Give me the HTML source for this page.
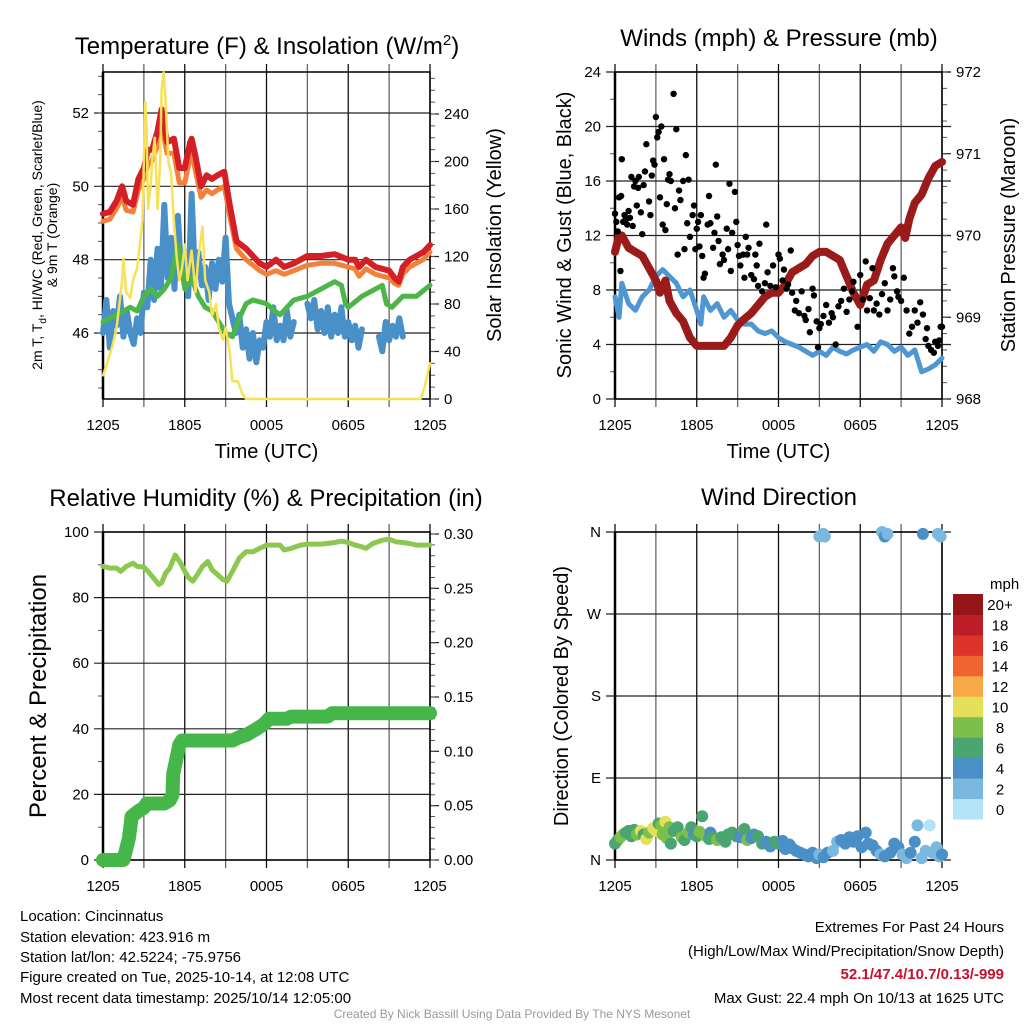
<!DOCTYPE html>
<html><head><meta charset="utf-8"><style>
html,body{margin:0;padding:0;background:#fff;}
svg{display:block;font-family:"Liberation Sans",sans-serif;}
</style></head><body>
<svg id="c" width="1024" height="1024" viewBox="0 0 1024 1024" xmlns="http://www.w3.org/2000/svg">
<g id="g"></g>
<g font-size="15" fill="#000">
<text x="20" y="921">Location: Cincinnatus</text>
<text x="20" y="942">Station elevation: 423.916 m</text>
<text x="20" y="962">Station lat/lon: 42.5224; -75.9756</text>
<text x="20" y="982">Figure created on Tue, 2025-10-14, at 12:08 UTC</text>
<text x="20" y="1003">Most recent data timestamp: 2025/10/14 12:05:00</text>
</g>
<g font-size="15" text-anchor="end">
<text x="1004" y="932">Extremes For Past 24 Hours</text>
<text x="1004" y="956">(High/Low/Max Wind/Precipitation/Snow Depth)</text>
<text x="1004" y="979" fill="#c8102e" font-weight="bold">52.1/47.4/10.7/0.13/-999</text>
<text x="1004" y="1003">Max Gust: 22.4 mph On 10/13 at 1625 UTC</text>
</g>
<text x="512" y="1018" font-size="12" fill="#999" text-anchor="middle">Created By Nick Bassill Using Data Provided By The NYS Mesonet</text>
</svg>
<script>
// ---------- data ----------
const xTickLabels=["1205","1805","0005","0605","1205"];
const tempHours=[0,0.5,1,1.4,1.7,2.2,2.6,3,3.3,3.6,4,4.3,4.7,5.2,5.6,6,6.4,6.5,6.8,7.2,7.6,8,8.4,8.9,9.3,9.8,10.5,11.5,12,12.7,13.3,14,15,16,17,18,18.5,18.8,19.3,20,21,21.4,21.7,22,22.5,23,23.5,24];
const tempRed=[49.25,49.3,49.6,50.0,49.6,49.5,50.2,50.5,51.0,51.0,51.5,52.1,51.2,51.3,50.5,50.5,51.2,51.3,50.8,50.0,50.3,50.2,50.3,50.4,49.5,48.5,48.3,47.9,47.8,48.0,47.8,47.9,48.1,48.1,48.15,48.0,48.0,47.8,48.0,47.8,47.7,47.5,47.4,47.8,48.0,48.1,48.2,48.4];
const tempOrange=[49.05,49.1,49.4,49.7,49.35,49.3,49.9,50.2,50.6,50.7,51.1,51.7,50.9,50.9,50.1,50.1,50.8,50.9,50.4,49.7,49.9,49.8,49.9,50.0,49.2,48.3,48.0,47.7,47.6,47.7,47.6,47.7,47.85,47.9,47.9,47.8,47.75,47.55,47.75,47.6,47.5,47.35,47.3,47.6,47.8,47.9,48.0,48.2];
const dewHours=[0,1,2,2.5,3,3.5,4,4.5,5,5.5,6,6.5,7,7.5,8,8.5,9,9.5,10,10.5,11,12,12.6,13,14,15,16,17,17.5,17.8,18,19,20,20.5,20.8,21.2,22,23,24];
const dewGreen=[46.3,46.5,46.7,46.6,47.0,47.2,47.0,47.2,47.5,48.4,47.2,47.5,47.0,46.7,46.6,46.3,46.0,45.9,46.4,46.8,46.9,46.8,46.6,46.5,46.9,47.0,47.2,47.4,47.3,46.8,46.7,47.0,47.2,47.3,46.8,46.7,47.0,47.0,47.3];
const hiwcHours=[0,0.25,0.5,0.75,1,1.25,1.5,1.75,2,2.25,2.5,2.75,3,3.25,3.5,3.75,4,4.25,4.5,4.75,5,5.25,5.5,5.75,6,6.25,6.5,6.75,7,7.25,7.5,7.75,8,8.25,8.5,8.75,9,9.25,9.5,9.75,10,10.25,10.5,10.75,11,11.25,11.5,11.75,12,12.25,12.5,12.75,13,13.25,13.5,13.75,14,14.5,15,15.25,15.5,15.75,16,16.25,16.5,16.75,17,17.25,17.5,17.75,18,18.25,18.5,18.75,19,20,20.25,20.5,20.75,21,21.25,21.5,21.75,22];
const hiwcBlue=[46.0,46.9,45.6,46.6,46.2,47.0,45.9,46.6,46.0,45.7,46.4,46.0,47.1,46.7,48.0,46.9,48.3,47.2,49.5,47.5,48.6,47.2,49.2,47.6,48.0,47.0,49.8,47.5,48.2,47.3,47.8,46.9,47.9,47.2,48.0,47.4,48.6,46.8,46.4,46.0,46.5,45.6,46.1,45.3,46.0,45.2,45.8,45.6,46.3,45.9,46.7,45.8,46.2,45.8,46.6,45.9,46.3,null,46.8,46.4,46.9,46.1,46.6,46.0,46.7,45.9,46.5,46.0,46.7,45.9,46.3,45.8,46.2,45.6,46.1,null,45.9,45.5,46.3,45.8,46.2,45.9,46.4,45.9];
const solarHours=[0,0.3,0.7,1,1.4,1.5,1.7,2,2.2,2.5,2.9,3.1,3.2,3.3,3.5,3.6,3.8,4,4.2,4.3,4.45,4.6,4.8,5,5.2,5.4,5.6,5.8,6,6.2,6.5,6.8,7,7.3,7.5,7.8,8,8.3,8.5,8.8,9,9.3,9.5,9.9,10.2,10.5,23.3,23.6,24];
const solarYellow=[20,30,45,60,100,118,90,85,100,110,150,250,230,160,180,200,220,160,200,260,275,250,200,190,150,120,100,110,130,100,125,90,120,145,100,90,70,80,60,50,60,40,15,15,5,0,0,10,30];
const presHours=[0,0.3,0.5,1,1.5,2,2.5,3,3.3,3.7,4,4.5,5,5.5,6,6.5,7,7.5,8,8.5,9,9.5,10,10.5,11,11.5,12,12.5,13,13.5,14,14.5,15,15.5,16,16.5,17,17.5,18,18.5,19,19.5,20,20.5,21,21.3,21.6,22,22.5,23,23.5,24];
const presMaroon=[969.8,970.0,970.0,969.85,969.8,969.75,969.6,969.45,969.3,969.45,969.2,969.05,968.95,968.75,968.65,968.65,968.65,968.65,968.65,968.75,968.9,968.98,969.05,969.15,969.25,969.3,969.3,969.4,969.55,969.6,969.65,969.75,969.8,969.8,969.75,969.7,969.5,969.3,969.15,969.4,969.45,969.7,969.9,970.0,970.1,969.97,970.2,970.4,970.5,970.7,970.85,970.9];
const windHours=[0,0.3,0.5,1,1.5,2,2.5,3,3.5,4,4.5,5,5.5,6,6.3,6.5,7,7.5,8,8.5,9,9.5,10,10.5,11,11.5,12,12.5,13,13.5,14,14.5,15,15.5,16,16.5,17,17.5,18,18.5,19,19.5,20,20.5,21,21.5,22,22.5,23,23.5,24];
const windBlue=[7.5,6,8.5,7,6.5,7.5,8,9.0,9.5,9.0,8.5,7.5,8.0,6.5,5.5,7.5,6.5,7.0,6.0,6.5,5.8,5.5,5.5,5.0,4.8,5.0,4.5,4.2,4.0,3.8,3.5,3.2,3.5,3.2,3.8,3.5,3.3,3.6,3.8,4.0,3.5,4.2,4.0,3.5,3.8,3.2,3.6,2.0,2.2,2.5,3.0];
const gustHours=[0,0.1,0.2,0.3,0.4,0.45,0.5,0.6,0.7,0.8,0.9,1.0,1.1,1.2,1.3,1.4,1.5,1.6,1.7,1.75,1.9,2.0,2.1,2.2,2.3,2.5,2.6,2.7,2.8,2.9,3.0,3.1,3.2,3.3,3.4,3.5,3.6,3.7,3.8,3.9,4.0,4.1,4.3,4.4,4.5,4.6,4.7,4.8,5.0,5.1,5.2,5.3,5.4,5.5,5.7,5.8,5.9,6.0,6.1,6.2,6.3,6.4,6.5,6.6,6.8,6.9,7.0,7.2,7.3,7.4,7.5,7.6,7.7,7.9,8.0,8.2,8.3,8.4,8.5,8.6,8.8,8.9,9.0,9.1,9.2,9.4,9.5,9.6,9.7,9.8,10,10.2,10.3,10.4,10.5,10.6,10.8,11.0,11.1,11.2,11.4,11.6,11.8,12.0,12.1,12.3,12.4,12.6,12.7,12.9,13,13.2,13.3,13.5,13.7,13.9,14.0,14.2,14.3,14.5,14.6,14.8,14.9,15.0,15.1,15.3,15.5,15.7,15.9,16.0,16.2,16.4,16.6,16.8,17.0,17.2,17.4,17.5,17.8,18.0,18.2,18.4,18.5,18.7,18.9,19.0,19.2,19.4,19.6,19.8,20.0,20.2,20.4,20.5,20.7,20.8,21.0,21.2,21.4,21.6,21.8,22.0,22.2,22.4,22.6,22.8,22.9,23.0,23.2,23.4,23.5,23.7,23.8,23.9,24];
const gustBlack=[13.6,13,12.3,14.8,9.4,14.9,17.6,13,13.5,13.2,12.8,13.8,13.3,16.3,12.7,15.6,16,14.2,15.5,16.3,13.7,12.1,15.7,16.7,18.7,14.5,13.5,16.4,17.5,17.2,20.7,19.2,19.6,14.8,20,12.8,17.6,12.4,14.3,16.1,16.5,16,22.4,14,19.8,10.6,15.3,14.6,16,11,17.9,12.9,16.1,11.9,13.5,14.2,11,12.5,13,11.2,13.5,10.5,8.9,9.2,12.8,14.9,12.9,11.1,12.2,17.2,13.4,11.6,9.9,10.6,10.2,12.5,11.0,15.8,9.4,12.2,15.2,13,11.3,10.5,9.8,10.6,8.9,11.9,10.6,11.1,9.1,8.8,10.6,9.8,8.3,11.4,7.9,8.5,12.8,9.3,8.3,9.8,8.2,10.6,10.3,8.7,9.5,8.1,8.4,10.9,7.8,6.5,7.2,6.3,7.9,6.1,5.8,6.6,4.9,8.1,7.6,5.7,3.8,5.2,5.5,6.1,6.9,5.6,6.3,6.0,4.0,6.8,7.2,8.1,6.4,7.3,7.9,8.6,5.3,9.1,7.3,10.1,6.5,7.4,9.6,6.5,7.0,6.2,7.7,8.5,6.5,7.3,9.6,9.0,7.9,7.5,7.2,8.9,6.5,4.8,5.3,6.5,5.6,7.1,6.2,4.4,5.2,3.9,3.6,3.4,4.2,3.9,4.3,5.3,5.3];
const rhHours=[0,0.5,1,1.3,1.7,2.2,2.5,3,3.3,3.7,4.1,4.3,4.6,4.9,5.3,5.7,6.0,6.3,6.6,7.0,7.3,7.7,8.0,8.4,8.8,9.1,9.5,10,10.5,11,11.5,12,12.5,13,13.3,13.8,14.5,15,16,17,17.5,18,18.5,19,19.3,19.8,20.5,21,21.5,22,22.5,23,24];
const rhGreen=[89.5,89,89,88,89.5,90.5,89.5,89.3,88,86,84,84.5,87.5,89,93,90.5,88,86,85,87.5,89.5,91,88.5,87,85.5,85,88,92,94,94,95,96,96,96,94.5,95,96,96.3,96.3,96.8,97.2,96.8,96,95.5,95,96.5,97.5,97.8,97,96.8,96.5,96,96];
const precipHours=[0,1.5,1.7,1.9,2.0,2.1,2.3,2.6,3.0,3.2,3.5,4.0,4.5,4.9,5.1,5.15,5.3,5.45,5.6,5.8,7,9.5,10,10.5,11.2,11.8,12.2,13.5,13.8,16.5,16.8,24];
const precipIn=[0,0,0.01,0.02,0.03,0.04,0.042,0.045,0.048,0.052,0.052,0.052,0.052,0.055,0.06,0.079,0.088,0.097,0.106,0.11,0.11,0.11,0.113,0.115,0.12,0.125,0.13,0.13,0.132,0.132,0.135,0.135];
const dirHours=[0,0.2,0.4,0.6,0.8,1,1.2,1.4,1.6,1.9,2.1,2.3,2.5,2.8,3.0,3.2,3.4,3.5,3.7,3.8,4.0,4.1,4.3,4.6,4.9,5.1,5.4,5.6,5.8,6.0,6.2,6.4,6.6,6.9,7.0,7.2,7.5,7.8,8.1,8.3,8.6,8.9,9.2,9.5,9.7,10.0,10.2,10.5,10.8,11.1,11.4,11.7,12.0,12.3,12.5,12.8,13.0,13.3,13.6,13.9,14.2,14.5,14.8,15.0,15.3,15.6,16.0,16.3,16.6,16.9,17.2,17.5,17.8,18.1,18.4,18.6,18.9,19.2,19.5,19.8,20.2,20.5,20.8,21.1,21.4,21.7,22.0,22.2,22.5,22.8,23.1,23.3,23.6,23.8,24,15.0,15.3,15.4,19.6,19.8,20.0,22.6,23.7,23.9];
const dirDeg=[18,22,25,28,30,32,26,33,28,32,28,23,30,35,32,40,38,28,42,24,36,18,32,36,25,22,30,36,28,26,31,48,27,23,30,25,22,25,20,28,30,26,25,34,22,24,28,26,18,20,15,20,18,21,12,17,13,10,8,6,4,8,2,6,3,8,10,20,22,18,25,20,26,14,30,18,16,10,6,4,8,18,14,6,2,8,20,38,2,10,38,8,14,4,6,355,358,355,360,355,358,358,358,355];
const dirSpeed=[7,7,8,8,7,6,6,7,8,10,7,10,8,10,10,6,8,9,10,8,8,7,6,6,8,7,8,6,4,6,8,6,8,7,4,6,8,6,6,6,6,6,5,6,8,4,4,6,6,4,4,6,6,4,4,4,4,4,4,4,4,4,4,2,4,4,2,2,4,4,4,4,4,4,4,4,4,4,2,4,4,4,4,2,2,4,4,2,2,2,0,2,2,2,4,2,2,2,2,4,2,4,2,2];
const dirTickLabels=["N","E","S","W","N"];
const speedBins=["0","2","4","6","8","10","12","14","16","18","20+"];
const speedColors=["#b3e3f7","#7bb8e0","#4a8fc6","#4aa570","#7cc04b","#e5e05a","#f6a946","#ef6430","#dd3429","#bd1d26","#95161a"];

// ---------- helpers ----------
const NS="http://www.w3.org/2000/svg";
const root=document.getElementById('g');
function mk(tag,attrs,parent){const e=document.createElementNS(NS,tag);for(const k in attrs)e.setAttribute(k,attrs[k]);(parent||root).appendChild(e);return e;}
function lin(d0,d1,r0,r1){return v=>r0+(v-d0)/(d1-d0)*(r1-r0);}
function pathFrom(xs,ys,sx,sy){let d="",pen=false;for(let i=0;i<xs.length;i++){if(ys[i]===null){pen=false;continue;}d+=(pen?"L":"M")+sx(xs[i]).toFixed(1)+","+sy(ys[i]).toFixed(1);pen=true;}return d;}

function panel(P){
  const g=mk('g',{});
  
  
  const sx=lin(0,24,P.x0,P.x1);
  for(let i=0;i<=8;i++){
    const x=sx(i*3);
    const l=mk('line',{x1:x,x2:x,y1:P.y0-8,y2:P.y1+8,stroke:(i%2?"#666":"#111"),"stroke-width":1.3},g);
    
    
  }
  xTickLabels.forEach((t,i)=>{
    const e=mk('text',{x:sx(i*6),y:P.y1+31,"font-size":15,"text-anchor":"middle"},g);
    e.textContent=t;
    
    
  });
  P.lTicks.forEach((v,i)=>{
    const y=P.syL(v);
    const l=mk('line',{x1:P.x0-9,x2:P.x1+(P.gridRight||0),y1:y,y2:y,stroke:"#222","stroke-width":1.2},g);
    
    
    const e=mk('text',{x:P.x0-14,y:y+5,"font-size":15,"text-anchor":"end"},g);
    e.textContent=P.lLabels[i];
    
    
  });
  (P.lMinor||[]).forEach(v=>{const y=P.syL(v);const l=mk('line',{x1:P.x0-5,x2:P.x0,y1:y,y2:y,stroke:"#555","stroke-width":1},g);});
  if(P.syR){
    P.rTicks.forEach((v,i)=>{
      const y=P.syR(v);
      const l=mk('line',{x1:P.x1,x2:P.x1+9,y1:y,y2:y,stroke:"#222","stroke-width":1.2},g);
      
      
      const e=mk('text',{x:P.x1+14,y:y+5,"font-size":15},g);
      e.textContent=P.rLabels[i];
      
      
    });
    (P.rMinor||[]).forEach(v=>{const y=P.syR(v);const l=mk('line',{x1:P.x1,x2:P.x1+5,y1:y,y2:y,stroke:"#555","stroke-width":1},g);});
  }
  const f=mk('rect',{x:P.x0,y:P.y0,width:P.x1-P.x0,height:P.y1-P.y0,fill:"none",stroke:"#000","stroke-width":1.5},g);
  
  
  const lb=mk('line',{x1:P.x0,x2:P.x0,y1:P.y0,y2:P.y1,stroke:"#000","stroke-width":2.5},g);
  
  
  const t=mk('text',{x:P.tx,y:P.ty,"font-size":24,"text-anchor":"middle"},g);
  t.innerHTML=P.title;
  
  
  if(P.xTitle){const e=mk('text',{x:(P.x0+P.x1)/2,y:P.y1+59,"font-size":20,"text-anchor":"middle"},g);e.textContent="Time (UTC)";}
  return {g,sx};
}
function rotText(x,y,size,txt,name){
  const e=mk('text',{x:0,y:0,"font-size":size,"text-anchor":"middle",transform:`translate(${x},${y}) rotate(-90)`});
  e.textContent=txt;
  
  
  return e;
}
function line(g,xs,ys,sx,sy,color,w,name){
  const p=mk('path',{d:pathFrom(xs,ys,sx,sy),fill:"none",stroke:color,"stroke-width":w,"stroke-linejoin":"round","stroke-linecap":"round"},g);
  
  
}
function range(a,b,s){const r=[];for(let v=a;v<=b+1e-9;v+=s)r.push(+v.toFixed(4));return r;}

// ---------- Panel 1 ----------
{
  const syL=lin(46,52,333,113), syR=lin(0,240,399,114);
  const P={name:"temperature-panel",x0:103,x1:430,y0:72,y1:399,syL,syR,lTicks:[46,48,50,52],lLabels:["46","48","50","52"],
    lMinor:range(44.5,53,0.5),rTicks:[0,40,80,120,160,200,240],rLabels:["0","40","80","120","160","200","240"],rMinor:range(0,270,10),
    title:'Temperature (F) &amp; Insolation (W/m<tspan dy="-9" font-size="15">2</tspan><tspan dy="9">)</tspan>',tx:267,ty:54,xTitle:true};
  const {g,sx}=panel(P);
  line(g,hiwcHours,hiwcBlue,sx,syL,"#4a90c8",6,"hiwc-blue-line");
  line(g,dewHours,dewGreen,sx,syL,"#4cb648",5,"dewpoint-green-line");
  line(g,tempHours,tempOrange,sx,syL,"#f4813a",5,"temp-9m-orange-line");
  line(g,tempHours,tempRed,sx,syL,"#d41f26",6,"temp-2m-red-line");
  line(g,solarHours,solarYellow,sx,syR,"#f7e257",2.5,"solar-yellow-line");
  const e=mk('text',{x:0,y:0,"font-size":14,"text-anchor":"middle",transform:"translate(42,235) rotate(-90)"});
  e.innerHTML='2m T, T<tspan font-size="10" dy="4">d</tspan><tspan dy="-4">, HI/WC (Red, Green, Scarlet/Blue)</tspan>';
  
  
  rotText(57,235,14,"& 9m T (Orange)","y-left-axis-title-line2");
  rotText(501,235,20,"Solar Insolation (Yellow)","y-right-axis-title");
}
// ---------- Panel 2 ----------
{
  const syL=lin(0,24,399,72), syR=lin(968,972,399,72);
  const P={name:"winds-panel",x0:615,x1:942,y0:72,y1:399,syL,syR,lTicks:[0,4,8,12,16,20,24],lLabels:["0","4","8","12","16","20","24"],
    lMinor:range(2,22,4),rTicks:[968,969,970,971,972],rLabels:["968","969","970","971","972"],rMinor:range(968,972,0.2),
    title:"Winds (mph) &amp; Pressure (mb)",tx:779,ty:46,xTitle:true,gridRight:9};
  const {g,sx}=panel(P);
  line(g,windHours,windBlue,sx,syL,"#4f97d2",5,"sonic-wind-blue-line");
  line(g,presHours,presMaroon,sx,syR,"#9b1b1b",8,"pressure-maroon-line");
  gustHours.forEach((h,i)=>{
    const c=mk('circle',{cx:sx(h),cy:syL(gustBlack[i]),r:3.2,fill:"#000"},g);
    
    
  });
  rotText(571,235,20,"Sonic Wind & Gust (Blue, Black)","y-left-axis-title");
  rotText(1015,235,20,"Station Pressure (Maroon)","y-right-axis-title");
}
// ---------- Panel 3 ----------
{
  const syL=lin(0,100,860,532), syR=lin(0,0.30,860,534);
  const P={name:"humidity-precip-panel",x0:103,x1:430,y0:532,y1:860,syL,syR,lTicks:[0,20,40,60,80,100],lLabels:["0","20","40","60","80","100"],
    lMinor:range(10,90,20),rTicks:[0,0.05,0.10,0.15,0.20,0.25,0.30],rLabels:["0.00","0.05","0.10","0.15","0.20","0.25","0.30"],rMinor:range(0,0.3,0.01),
    title:"Relative Humidity (%) &amp; Precipitation (in)",tx:266,ty:506,xTitle:false};
  const {g,sx}=panel(P);
  line(g,precipHours,precipIn,sx,syR,"#45b649",14,"precip-green-line");
  line(g,rhHours,rhGreen,sx,syL,"#8cc850",5,"rh-green-line");
  rotText(46,696,24,"Percent & Precipitation","y-left-axis-title");
}
// ---------- Panel 4 ----------
{
  const syL=lin(0,360,860,532);
  const P={name:"wind-direction-panel",x0:615,x1:942,y0:532,y1:860,syL,lTicks:[0,90,180,270,360],lLabels:["N","E","S","W","N"],
    title:"Wind Direction",tx:779,ty:505,xTitle:false,gridRight:9};
  const {g,sx}=panel(P);
  dirHours.forEach((h,i)=>{
    const c=mk('circle',{cx:sx(h),cy:syL(dirDeg[i]),r:6,fill:speedColors[Math.min(10,Math.floor(dirSpeed[i]/2))]},g);
    
    
  });
  rotText(568,696,20,"Direction (Colored By Speed)","y-left-axis-title");
  const cb=mk('g',{});
  
  
  const segH=(819-594)/11;
  speedBins.forEach((lab,i)=>{
    const y=819-(i+1)*segH;
    const r=mk('rect',{x:953,y:y,width:30,height:segH+0.5,fill:speedColors[i]},cb);
    
    
    const t=mk('text',{x:1000,y:y+segH/2+6,"font-size":15,"text-anchor":"middle"},cb);
    t.textContent=lab;
    
    
  });
  const u=mk('text',{x:990,y:589,"font-size":15},cb);
  u.textContent="mph";
  
  
}
</script>
</body></html>
